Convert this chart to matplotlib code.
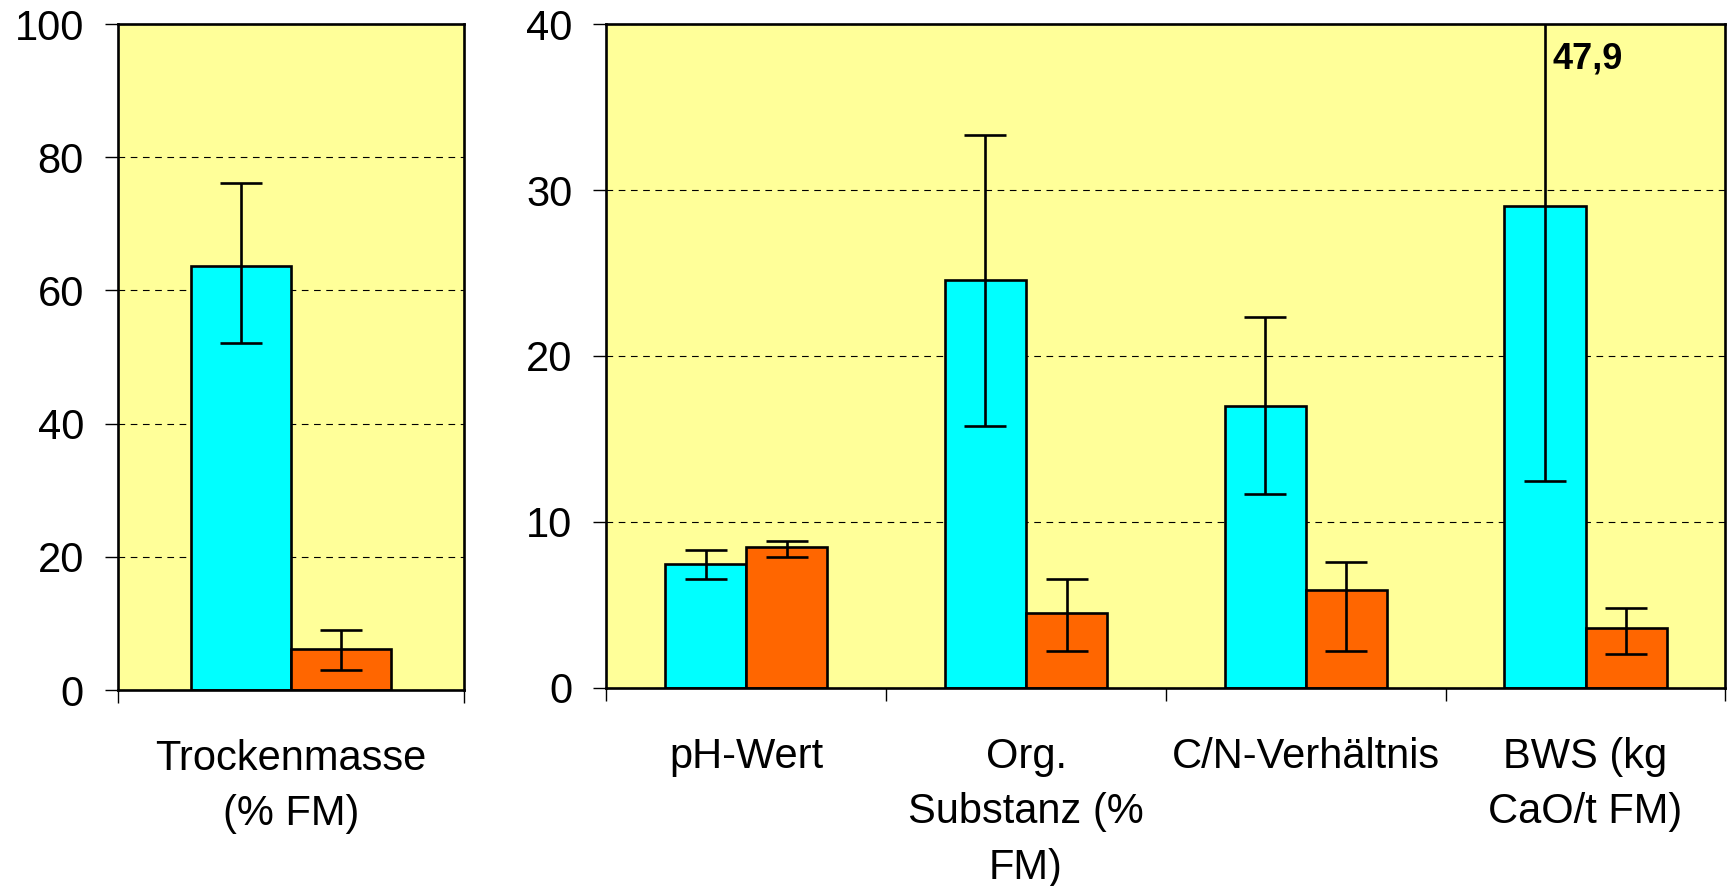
import matplotlib.pyplot as plt
import numpy as np

plt.rcParams['font.family'] = ['Liberation Sans', 'DejaVu Sans']

# Left panel data
left_cats = ["Trockenmasse\n(% FM)"]
left_a = [63.7]
left_a_lo = [52.1]
left_a_hi = [76.2]
left_b = [6.1]
left_b_lo = [3.0]
left_b_hi = [9.0]

# Right panel data
right_cats = ["pH-Wert", "Org.\nSubstanz (%\nFM)", "C/N-Verhältnis", "BWS (kg\nCaO/t FM)"]
right_a = [7.45, 24.6, 17.0, 29.05]
right_a_lo = [6.56, 15.8, 11.7, 12.45]
right_a_hi = [8.33, 33.3, 22.35, 47.9]
right_b = [8.5, 4.52, 5.9, 3.64]
right_b_lo = [7.92, 2.21, 2.2, 2.04]
right_b_hi = [8.84, 6.56, 7.6, 4.83]

cyan = "#00FFFF"
orange = "#FF6600"
bg = "#FFFF99"
fs = 30
bw = 0.29
lw = 1.9

fig = plt.figure(figsize=(17.32, 8.86), dpi=100)
ax1 = fig.add_axes([0.0681, 0.2212, 0.1998, 0.7517])
ax2 = fig.add_axes([0.3501, 0.2235, 0.6461, 0.7494])


def draw(ax, cats, a, a_lo, a_hi, b, b_lo, b_hi, ymax, ystep):
    x = np.arange(len(cats)) + 0.5
    a = np.array(a)
    b = np.array(b)
    ax.set_facecolor(bg)
    ax.bar(x - bw / 2, a, bw, color=cyan, edgecolor="black", linewidth=lw, zorder=2)
    ax.bar(x + bw / 2, b, bw, color=orange, edgecolor="black", linewidth=lw, zorder=2)
    ax.errorbar(x - bw / 2, a, yerr=[a - np.array(a_lo), np.array(a_hi) - a],
                fmt="none", ecolor="black", elinewidth=lw, capsize=15, capthick=lw, zorder=3)
    ax.errorbar(x + bw / 2, b, yerr=[b - np.array(b_lo), np.array(b_hi) - b],
                fmt="none", ecolor="black", elinewidth=lw, capsize=15, capthick=lw, zorder=3)
    ax.set_xlim(0, len(cats))
    ax.set_ylim(0, ymax)
    ax.set_yticks(np.arange(0, ymax + 1, ystep))
    ax.yaxis.grid(True, color="black", linestyle=(0, (6, 5)), linewidth=0.8, zorder=1)
    ax.set_axisbelow(True)
    ax.set_xticks(np.arange(len(cats) + 1))
    ax.set_xticklabels([""] * (len(cats) + 1))
    ax.set_xticks(x, minor=True)
    ax.set_xticklabels(cats, minor=True, fontsize=fs, linespacing=1.5)
    ax.tick_params(axis="x", which="minor", length=0, pad=35)
    ax.tick_params(axis="x", which="major", length=9.5, width=1.0, direction="out")
    ax.tick_params(axis="y", length=9.5, width=1.0, direction="out", labelsize=fs, pad=15)
    for s in ax.spines.values():
        s.set_linewidth(lw)
        s.set_color("black")


draw(ax1, left_cats, left_a, left_a_lo, left_a_hi, left_b, left_b_lo, left_b_hi, 100, 20)
draw(ax2, right_cats, right_a, right_a_lo, right_a_hi, right_b, right_b_lo, right_b_hi, 40, 10)

# value of the clipped error bar
ax2.text(3.382, 37.9, "47,9", fontsize=26, fontweight="bold", ha="left", va="center")

fig.savefig("out.png", dpi=100)
